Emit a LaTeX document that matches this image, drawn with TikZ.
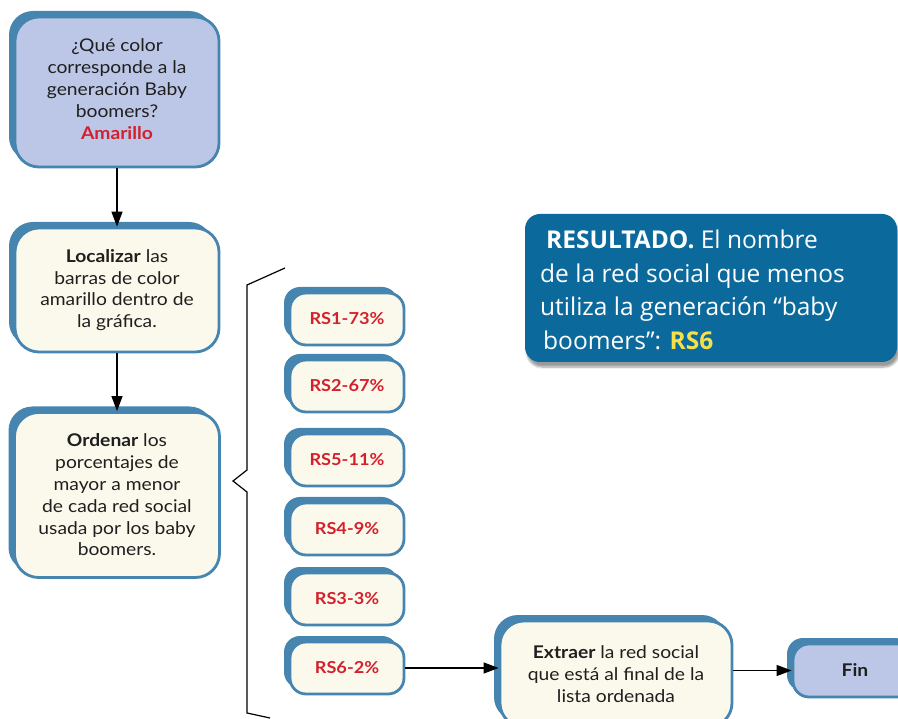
\documentclass[tikz,border=0pt]{standalone}
\usepackage{fontspec}
\setmainfont{Lato}[FakeStretch=1.1]
\newfontfamily\resfont{Open Sans}
\usetikzlibrary{arrows.meta,shadows,shadows.blur}
\definecolor{bordc}{HTML}{4585B0}
\definecolor{lav}{HTML}{BCC6E6}
\definecolor{cream}{HTML}{FBF9EC}
\definecolor{redt}{HTML}{D4202C}
\definecolor{resbg}{HTML}{0B6A9B}
\definecolor{yel}{HTML}{F5E04A}
\begin{document}
\begin{tikzpicture}[x=1pt,y=-1pt,
  fbox/.style={draw=bordc, line width=2.8pt, rounded corners=24pt, align=center,
    inner sep=0pt, general shadow={fill=bordc, shadow xshift=-6pt, shadow yshift=6pt},
    font=\fontsize{17.5}{21.8}\selectfont, text=black!88},
  qbox/.style={fbox, fill=lav},
  cbox/.style={fbox, fill=cream},
  rsbox/.style={fbox, fill=cream, rounded corners=16pt, minimum width=114pt, minimum height=52pt,
    font=\fontsize{16.5}{20}\selectfont\bfseries, text=redt},
  conn/.style={line width=1.3pt, -{Triangle[length=15pt,width=11pt]}},
  brace/.style={line width=1.2pt}
]
\useasboundingbox (0,0) rectangle (898,719);
\clip (0,0) rectangle (898,719);

\node[qbox, minimum width=204pt, minimum height=150pt] (q) at (117,92)
  {¿Qué color\\corresponde a la\\generación Baby\\boomers?\\\textcolor{redt}{\textbf{Amarillo}}\\[-16pt]\mbox{}};
\node[cbox, minimum width=204pt, minimum height=124pt] (loc) at (117,290)
  {\textbf{Localizar} las\\barras de color\\amarillo dentro de\\la gráfica.};
\node[cbox, minimum width=205pt, minimum height=165pt] (ord) at (117,495)
  {\textbf{Ordenar} los\\porcentajes de\\mayor a menor\\de cada red social\\usada por los baby\\boomers.};

\draw[conn] (q.south) -- (loc.north);
\draw[conn] (loc.south) -- (ord.north);

\node[rsbox] (rs1) at (347,319) {RS1-73\%};
\node[rsbox] (rs2) at (347,386) {RS2-67\%};
\node[rsbox] (rs5) at (347,460) {RS5-11\%};
\node[rsbox] (rs4) at (347,529) {RS4-9\%};
\node[rsbox] (rs3) at (347,599) {RS3-3\%};
\node[rsbox] (rs6) at (347,668) {RS6-2\%};

\coordinate (b1) at (285,268);
\coordinate (b2) at (247,285);
\coordinate (b3) at (247,470);
\coordinate (b4) at (233,481);
\coordinate (b5) at (247,492);
\coordinate (b6) at (247,713);
\coordinate (b7) at (270,718);
\draw[brace] (b1) -- (b2) -- (b3) -- (b4) -- (b5) -- (b6) -- (b7);

\node[cbox, minimum width=232pt, minimum height=106pt] (ext) at (616,674)
  {\textbf{Extraer} la red social\\que está al final de la\\lista ordenada};
\node[qbox, rounded corners=16pt, minimum width=124pt, minimum height=53pt] (fin) at (855,670.5)
  {\textbf{Fin}};

\draw[conn] (rs6.east) -- (rs6.east -| ext.west);
\draw[conn] (ext.east |- fin.west) -- (fin.west);

\node[fill=resbg, rounded corners=15pt, minimum width=372pt, minimum height=148pt,
  blur shadow={shadow xshift=2pt, shadow yshift=-5pt, shadow blur steps=6, shadow opacity=40},
  inner sep=0pt] (res) at (711,288) {};
\node[anchor=west, text=white, align=left, inner sep=0pt,
  font=\resfont\fontsize{24.5}{33.5}\selectfont] (restext) at (540,290)
  {\hspace*{6pt}\textbf{RESULTADO.} El nombre\\de la red social que menos\\utiliza la generación “baby\\\hspace*{3pt}boomers”: \textcolor{yel}{\textbf{RS6}}};
\end{tikzpicture}
\end{document}
